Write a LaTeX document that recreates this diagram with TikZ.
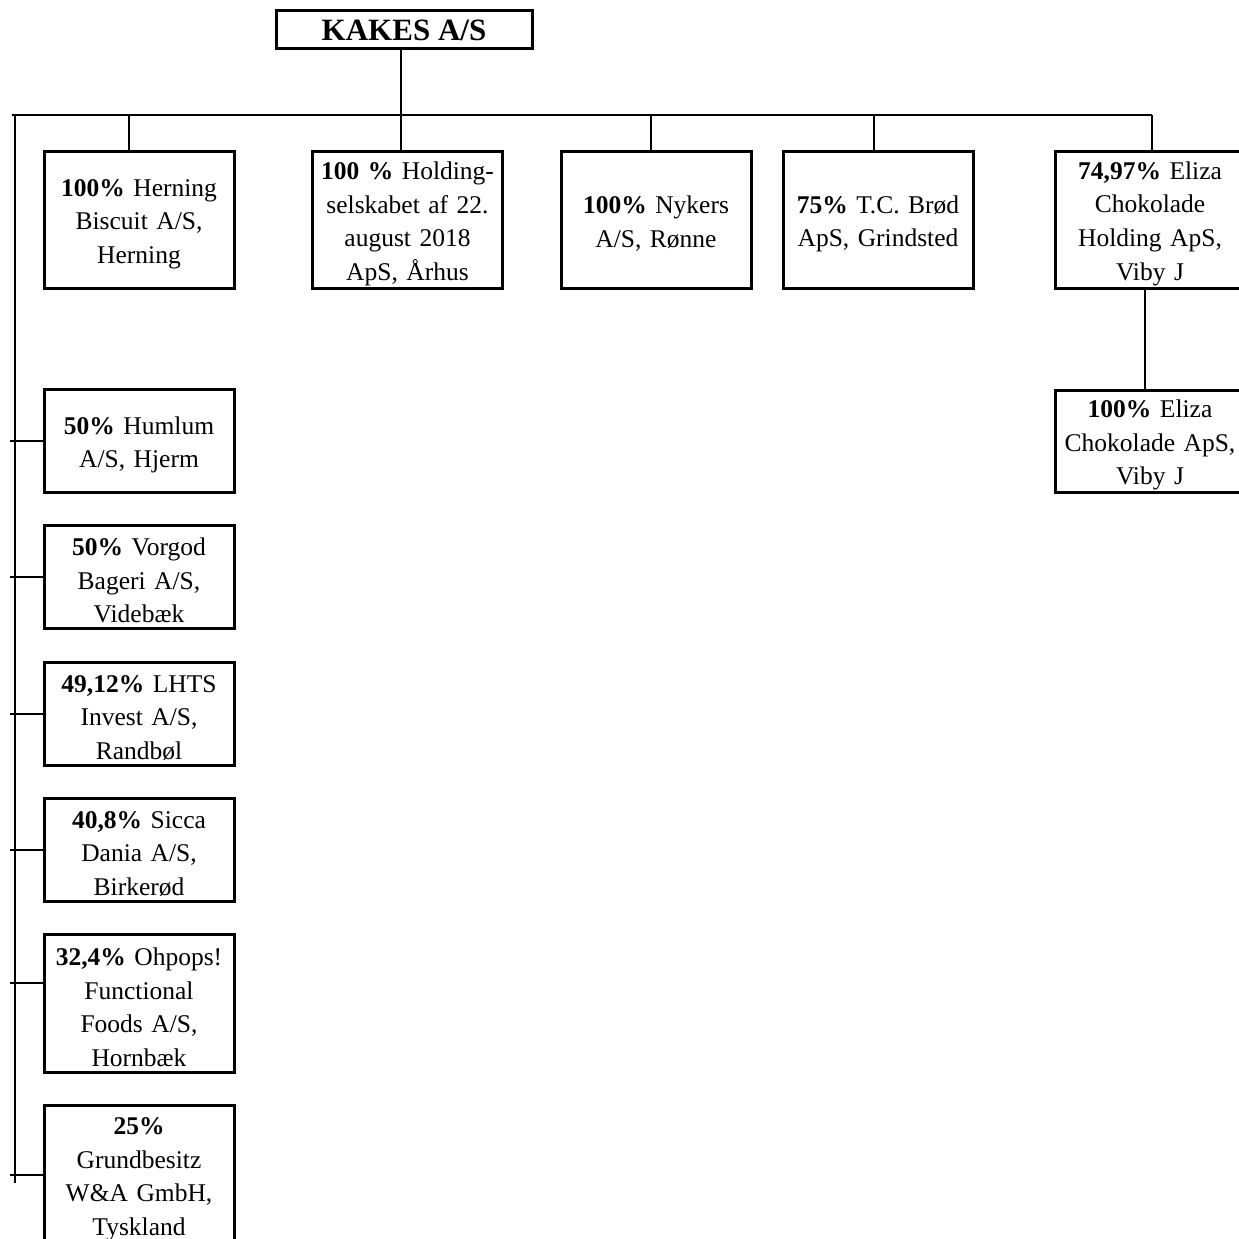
\documentclass[tikz,border=0pt]{standalone}
\usepackage{fontspec}
\setmainfont{Liberation Serif}
\usepackage{tikz}
\usetikzlibrary{positioning,calc}

\begin{document}
\begin{tikzpicture}[
    x=1pt, y=-1pt,
    company/.style={draw, line width=3pt, inner xsep=2pt, inner ysep=0pt,
      text width=186pt, align=center, minimum height=#1,
      execute at begin node={\rule{0pt}{26pt}},
      font=\fontsize{25.5}{33.5}\selectfont},
    company/.default=137pt,
    parent/.style={draw, line width=3pt, minimum width=256pt, minimum height=38pt,
      inner sep=0pt, font=\fontsize{31}{34}\selectfont\bfseries},
    link/.style={line width=2pt},
  ]
  \useasboundingbox (0,0) rectangle (1239,1239);

  % === Parent ===
  \node[parent] (kakes) at (404,30) {KAKES A/S};

  % === Top row ===
  \node[company] (herning) at (139,219.5) {\textbf{100\%} Herning\\Biscuit A/S,\\Herning};
  \node[company] (holding) at (407.5,219.5) {\textbf{100 \%} Holding-\\selskabet af 22.\\august 2018\\ApS, Århus};
  \node[company] (nykers) at (656,219.5) {\textbf{100\%} Nykers\\A/S, Rønne};
  \node[company] (tcbrod) at (878,219.5) {\textbf{75\%} T.C. Brød\\ApS, Grindsted};
  \node[company] (elizaholding) at (1150,219.5) {\textbf{74,97\%} Eliza\\Chokolade\\Holding ApS,\\Viby J};
  \node[company=102pt] (eliza) at (1150,441) {\textbf{100\%} Eliza\\Chokolade ApS,\\Viby J};

  % === Left column ===
  \node[company=103pt] (humlum) at (139,440.5) {\textbf{50\%} Humlum\\A/S, Hjerm};
  \node[company=103pt] (vorgod) at (139,576.5) {\textbf{50\%} Vorgod\\Bageri A/S,\\Videbæk};
  \node[company=103pt] (lhts) at (139,713.5) {\textbf{49,12\%} LHTS\\Invest A/S,\\Randbøl};
  \node[company=103pt] (sicca) at (139,849.5) {\textbf{40,8\%} Sicca\\Dania A/S,\\Birkerød};
  \node[company=138pt] (ohpops) at (139,1003) {\textbf{32,4\%} Ohpops!\\Functional\\Foods A/S,\\Hornbæk};
  \node[company=138pt] (grund) at (139,1174.5) {\textbf{25\%}\\Grundbesitz\\W\&A GmbH,\\Tyskland};

  % === Bus lines ===
  \coordinate (busL) at (12,115);
  \coordinate (busR) at (1152,115);
  \coordinate (sideT) at (15,115);
  \coordinate (sideB) at (15,1183);
  \coordinate (tickL) at (10,0);

  \draw[link] (busL) -- (busR);
  \draw[link] (sideT) -- (sideB);
  \draw[link] ([xshift=-3pt]kakes.south) -- ([xshift=-3pt]kakes.south |- holding.north);

  % drops to top row
  \draw[link] ([xshift=-10pt]herning.north) -- ([xshift=-10pt]herning.north |- busL);
  \draw[link] ([xshift=-5pt]nykers.north) -- ([xshift=-5pt]nykers.north |- busL);
  \draw[link] ([xshift=-4pt]tcbrod.north) -- ([xshift=-4pt]tcbrod.north |- busL);
  \draw[link] ([xshift=2pt]elizaholding.north) -- (busR);
  \draw[link] ([xshift=-5pt]elizaholding.south) -- ([xshift=-5pt]eliza.north);

  % ticks to left column
  \foreach \c in {humlum, vorgod, lhts, sicca, grund} {
    \draw[link] (\c.west) -- (\c.west -| tickL);
  }
  \draw[link] ([yshift=20pt]ohpops.west) -- ([yshift=20pt]ohpops.west -| tickL);

\end{tikzpicture}
\end{document}
